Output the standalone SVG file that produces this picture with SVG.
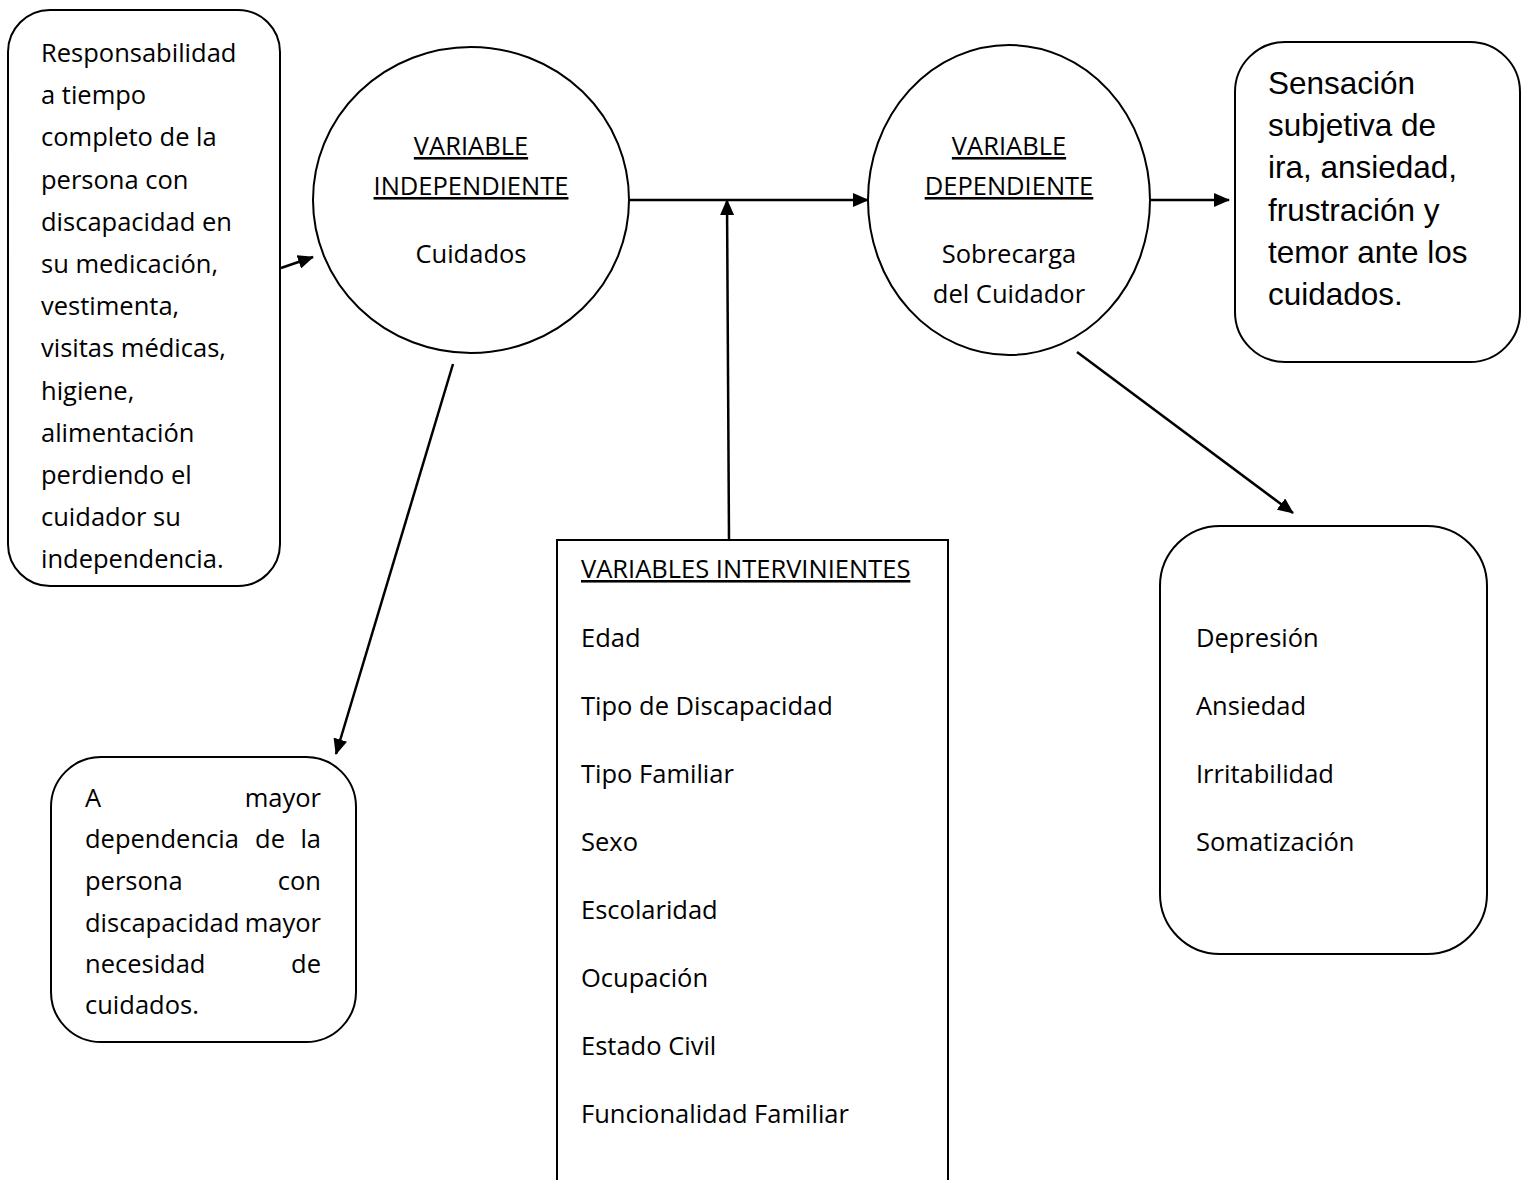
<svg xmlns="http://www.w3.org/2000/svg" width="1528" height="1180" viewBox="0 0 1528 1180">
<style>
.shape{fill:#fff;stroke:#000;stroke-width:2}
.t{font-family:"Open Sans",Lato,"Liberation Sans",sans-serif;font-size:25.5px;fill:#000}
.a{font-family:"Liberation Sans",Arial,sans-serif;font-size:31.5px;fill:#000}
.c{text-anchor:middle}
.e{text-anchor:end}
.u{text-decoration:underline}
.conn{stroke:#000;stroke-width:2.5;fill:none;marker-end:url(#ah)}
</style>
<defs>
<marker id="ah" markerUnits="userSpaceOnUse" markerWidth="16" markerHeight="14" viewBox="0 0 16 14" refX="15" refY="7" orient="auto">
<path d="M0,0 L16,7 L0,14 z" fill="#000"/>
</marker>
</defs>
<rect width="1528" height="1180" fill="#fff"/>
<g id="n-responsabilidad">
<rect class="shape" x="8" y="10" width="272" height="576" rx="42"/>
<text class="t" x="41" y="62">Responsabilidad</text>
<text class="t" x="41" y="104">a tiempo</text>
<text class="t" x="41" y="146">completo de la</text>
<text class="t" x="41" y="189">persona con</text>
<text class="t" x="41" y="231">discapacidad en</text>
<text class="t" x="41" y="273">su medicación,</text>
<text class="t" x="41" y="315">vestimenta,</text>
<text class="t" x="41" y="357">visitas médicas,</text>
<text class="t" x="41" y="400">higiene,</text>
<text class="t" x="41" y="442">alimentación</text>
<text class="t" x="41" y="484">perdiendo el</text>
<text class="t" x="41" y="526">cuidador su</text>
<text class="t" x="41" y="568">independencia.</text>
</g>
<g id="n-independiente">
<ellipse class="shape" cx="471" cy="200" rx="158" ry="153"/>
<text class="t c u" x="471" y="155">VARIABLE</text>
<text class="t c u" x="471" y="195">INDEPENDIENTE</text>
<text class="t c" x="471" y="263">Cuidados</text>
</g>
<g id="n-dependiente">
<ellipse class="shape" cx="1009" cy="200" rx="141" ry="155"/>
<text class="t c u" x="1009" y="155">VARIABLE</text>
<text class="t c u" x="1009" y="195">DEPENDIENTE</text>
<text class="t c" x="1009" y="263">Sobrecarga</text>
<text class="t c" x="1009" y="303">del Cuidador</text>
</g>
<g id="n-sensacion">
<rect class="shape" x="1235" y="42" width="285" height="320" rx="50"/>
<text class="a" x="1268" y="94">Sensación</text>
<text class="a" x="1268" y="136">subjetiva de</text>
<text class="a" x="1268" y="178">ira, ansiedad,</text>
<text class="a" x="1268" y="221">frustración y</text>
<text class="a" x="1268" y="263">temor ante los</text>
<text class="a" x="1268" y="305">cuidados.</text>
</g>
<g id="n-mayor">
<rect class="shape" x="51" y="757" width="305" height="285" rx="50"/>
<text class="t" x="85" y="807">A</text>
<text class="t e" x="321" y="807">mayor</text>
<text class="t" x="85" y="848">dependencia</text>
<text class="t c" x="270" y="848">de</text>
<text class="t e" x="321" y="848">la</text>
<text class="t" x="85" y="890">persona</text>
<text class="t e" x="321" y="890">con</text>
<text class="t" x="85" y="932">discapacidad</text>
<text class="t e" x="321" y="932">mayor</text>
<text class="t" x="85" y="973">necesidad</text>
<text class="t e" x="321" y="973">de</text>
<text class="t" x="85" y="1014">cuidados.</text>
</g>
<g id="n-intervinientes">
<path class="shape" d="M557,1182 L557,540 L948,540 L948,1182"/>
<text class="t u" x="581" y="578">VARIABLES INTERVINIENTES</text>
<text class="t" x="581" y="647">Edad</text>
<text class="t" x="581" y="715">Tipo de Discapacidad</text>
<text class="t" x="581" y="783">Tipo Familiar</text>
<text class="t" x="581" y="851">Sexo</text>
<text class="t" x="581" y="919">Escolaridad</text>
<text class="t" x="581" y="987">Ocupación</text>
<text class="t" x="581" y="1055">Estado Civil</text>
<text class="t" x="581" y="1123">Funcionalidad Familiar</text>
</g>
<g id="n-sintomas">
<rect class="shape" x="1160" y="526" width="327" height="428" rx="60"/>
<text class="t" x="1196" y="647">Depresión</text>
<text class="t" x="1196" y="715">Ansiedad</text>
<text class="t" x="1196" y="783">Irritabilidad</text>
<text class="t" x="1196" y="851">Somatización</text>
</g>
<g id="connectors">
<line class="conn" x1="281" y1="268" x2="313" y2="257"/>
<line class="conn" x1="630" y1="200" x2="868" y2="200"/>
<line class="conn" x1="729" y1="540" x2="727" y2="200"/>
<line class="conn" x1="1150" y1="200" x2="1229" y2="200"/>
<line class="conn" x1="453" y1="364" x2="336" y2="754"/>
<line class="conn" x1="1077" y1="352" x2="1293" y2="513"/>
</g>
</svg>
